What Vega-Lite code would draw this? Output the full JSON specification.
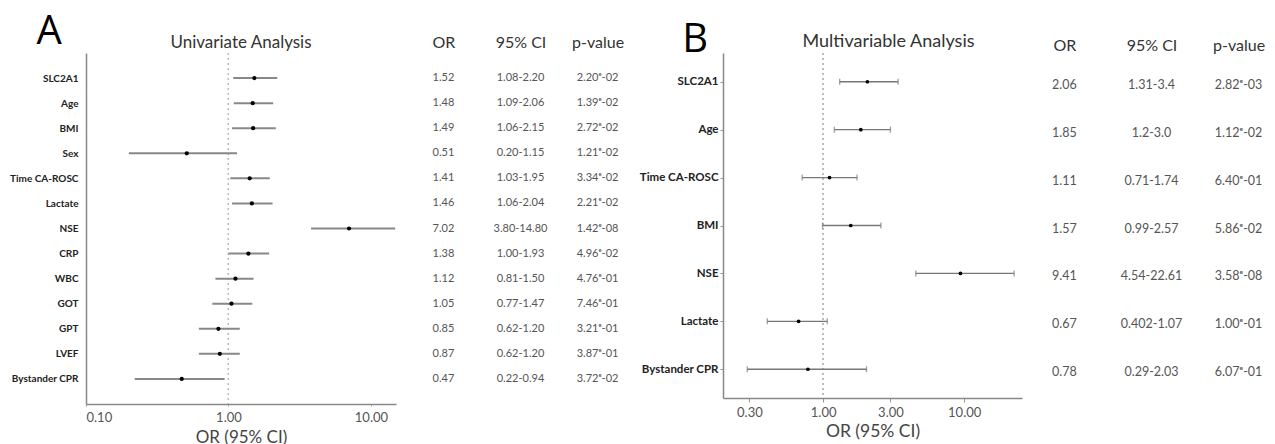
{
  "$schema": "https://vega.github.io/schema/vega-lite/v6.json",
  "padding": {"left": 9, "top": 11, "right": 0, "bottom": 0},
  "background": "white",
  "config": {
    "view": {"stroke": null},
    "font": "Lato",
    "title": {"font": "Lato", "fontWeight": "normal", "color": "#333"}
  },
  "datasets": {
    "uni": [
      {"var": "SLC2A1", "or": 1.52, "lo": 1.08, "hi": 2.20, "OR": "1.52", "95% CI": "1.08-2.20", "p-value": "2.20ᵉ-02"},
      {"var": "Age", "or": 1.48, "lo": 1.09, "hi": 2.06, "OR": "1.48", "95% CI": "1.09-2.06", "p-value": "1.39ᵉ-02"},
      {"var": "BMI", "or": 1.49, "lo": 1.06, "hi": 2.15, "OR": "1.49", "95% CI": "1.06-2.15", "p-value": "2.72ᵉ-02"},
      {"var": "Sex", "or": 0.51, "lo": 0.20, "hi": 1.15, "OR": "0.51", "95% CI": "0.20-1.15", "p-value": "1.21ᵉ-02"},
      {"var": "Time CA-ROSC", "or": 1.41, "lo": 1.03, "hi": 1.95, "OR": "1.41", "95% CI": "1.03-1.95", "p-value": "3.34ᵉ-02"},
      {"var": "Lactate", "or": 1.46, "lo": 1.06, "hi": 2.04, "OR": "1.46", "95% CI": "1.06-2.04", "p-value": "2.21ᵉ-02"},
      {"var": "NSE", "or": 7.02, "lo": 3.80, "hi": 14.80, "OR": "7.02", "95% CI": "3.80-14.80", "p-value": "1.42ᵉ-08"},
      {"var": "CRP", "or": 1.38, "lo": 1.00, "hi": 1.93, "OR": "1.38", "95% CI": "1.00-1.93", "p-value": "4.96ᵉ-02"},
      {"var": "WBC", "or": 1.12, "lo": 0.81, "hi": 1.50, "OR": "1.12", "95% CI": "0.81-1.50", "p-value": "4.76ᵉ-01"},
      {"var": "GOT", "or": 1.05, "lo": 0.77, "hi": 1.47, "OR": "1.05", "95% CI": "0.77-1.47", "p-value": "7.46ᵉ-01"},
      {"var": "GPT", "or": 0.85, "lo": 0.62, "hi": 1.20, "OR": "0.85", "95% CI": "0.62-1.20", "p-value": "3.21ᵉ-01"},
      {"var": "LVEF", "or": 0.87, "lo": 0.62, "hi": 1.20, "OR": "0.87", "95% CI": "0.62-1.20", "p-value": "3.87ᵉ-01"},
      {"var": "Bystander CPR", "or": 0.47, "lo": 0.22, "hi": 0.94, "OR": "0.47", "95% CI": "0.22-0.94", "p-value": "3.72ᵉ-02"}
    ],
    "multi": [
      {"var": "SLC2A1", "or": 2.06, "lo": 1.31, "hi": 3.4, "OR": "2.06", "95% CI": "1.31-3.4", "p-value": "2.82ᵉ-03"},
      {"var": "Age", "or": 1.85, "lo": 1.2, "hi": 3.0, "OR": "1.85", "95% CI": "1.2-3.0", "p-value": "1.12ᵉ-02"},
      {"var": "Time CA-ROSC", "or": 1.11, "lo": 0.71, "hi": 1.74, "OR": "1.11", "95% CI": "0.71-1.74", "p-value": "6.40ᵉ-01"},
      {"var": "BMI", "or": 1.57, "lo": 0.99, "hi": 2.57, "OR": "1.57", "95% CI": "0.99-2.57", "p-value": "5.86ᵉ-02"},
      {"var": "NSE", "or": 9.41, "lo": 4.54, "hi": 22.61, "OR": "9.41", "95% CI": "4.54-22.61", "p-value": "3.58ᵉ-08"},
      {"var": "Lactate", "or": 0.67, "lo": 0.402, "hi": 1.07, "OR": "0.67", "95% CI": "0.402-1.07", "p-value": "1.00ᵉ-01"},
      {"var": "Bystander CPR", "or": 0.78, "lo": 0.29, "hi": 2.03, "OR": "0.78", "95% CI": "0.29-2.03", "p-value": "6.07ᵉ-01"}
    ]
  },
  "spacing": 15,
  "hconcat": [
    {
      "title": {"text": "A", "anchor": "start", "font": "Open Sans", "fontSize": 40, "color": "#000", "dx": 27, "dy": 22},
      "spacing": 31,
      "hconcat": [
        {
          "width": 310,
          "height": 351,
          "data": {"name": "uni"},
          "title": {"text": "Univariate Analysis", "fontSize": 17, "offset": 1},
          "encoding": {
            "y": {"field": "var", "type": "nominal", "sort": null,
              "scale": {"type": "point", "padding": 1.29},
              "axis": {"title": null, "ticks": false, "labelPadding": 8, "labelFont": "Lato", "labelFontWeight": "bold", "labelFontSize": 10, "labelColor": "#222", "domainColor": "#888", "domainWidth": 1.5, "grid": false}}
          },
          "layer": [
            {
              "mark": {"type": "rule", "strokeDash": [2, 3], "color": "#bbb", "strokeWidth": 1},
              "encoding": {"x": {"datum": 1, "type": "quantitative"}, "y": null}
            },
            {
              "mark": {"type": "rule", "color": "#888", "strokeWidth": 2},
              "encoding": {
                "x": {"field": "lo", "type": "quantitative",
                  "scale": {"type": "log", "domain": [0.1, 15], "nice": false},
                  "axis": {"values": [0.1, 1, 10], "format": ".2f", "title": "OR (95% CI)", "grid": false, "ticks": true, "tickSize": 2, "tickColor": "#aaa", "labelPadding": 5, "labelFontSize": 13, "labelColor": "#555", "titleFontSize": 17, "titleFontWeight": "normal", "titleColor": "#444", "titlePadding": 5, "domainColor": "#888", "domainWidth": 1.5}},
                "x2": {"field": "hi"}
              }
            },
            {
              "mark": {"type": "point", "filled": true, "color": "#000", "size": 18, "shape": "circle", "opacity": 1},
              "encoding": {"x": {"field": "or", "type": "quantitative"}}
            }
          ]
        },
        {
          "width": 185,
          "height": 351,
          "data": {"name": "uni"},
          "transform": [{"fold": ["OR", "95% CI", "p-value"], "as": ["col", "val"]}],
          "mark": {"type": "text", "fontSize": 11, "color": "#555"},
          "encoding": {
            "x": {"field": "col", "type": "nominal", "sort": ["OR", "95% CI", "p-value"],
              "scale": {"type": "point", "padding": 0.2},
              "axis": {"orient": "top", "title": null, "domain": false, "ticks": false, "labelFontSize": 16, "labelColor": "#333", "labelPadding": 3, "labelAngle": 0}},
            "y": {"field": "var", "type": "nominal", "sort": null, "scale": {"type": "point", "padding": 1.29}, "axis": null},
            "text": {"field": "val", "type": "nominal"}
          }
        }
      ]
    },
    {
      "title": {"text": "B", "anchor": "start", "font": "Open Sans", "fontSize": 40, "color": "#000", "dx": 43, "dy": 31},
      "spacing": 25,
      "hconcat": [
        {
          "width": 299,
          "height": 345,
          "data": {"name": "multi"},
          "title": {"text": "Multivariable Analysis", "fontSize": 18, "offset": 2, "dx": 16},
          "encoding": {
            "y": {"field": "var", "type": "nominal", "sort": null,
              "scale": {"type": "point", "padding": 0.6},
              "axis": {"title": null, "ticks": true, "tickSize": 3, "tickColor": "#999", "labelPadding": 2, "labelFont": "Lato", "labelFontWeight": "bold", "labelFontSize": 11.5, "labelColor": "#222", "domainColor": "#888", "domainWidth": 1.5, "grid": false}}
          },
          "layer": [
            {
              "mark": {"type": "rule", "strokeDash": [2, 3], "color": "#bbb", "strokeWidth": 1},
              "encoding": {"x": {"datum": 1, "type": "quantitative"}, "y": null}
            },
            {
              "mark": {"type": "rule", "color": "#777", "strokeWidth": 1.3},
              "encoding": {
                "x": {"field": "lo", "type": "quantitative",
                  "scale": {"type": "log", "domain": [0.195, 25.7], "nice": false},
                  "axis": {"values": [0.3, 1, 3, 10], "format": ".2f", "title": "OR (95% CI)", "grid": false, "ticks": true, "tickSize": 4, "tickColor": "#999", "labelPadding": 4, "labelFontSize": 13, "labelColor": "#555", "titleFontSize": 17.5, "titleFontWeight": "normal", "titleColor": "#444", "titlePadding": 3, "domainColor": "#888", "domainWidth": 1.5}},
                "x2": {"field": "hi"}
              }
            },
            {
              "mark": {"type": "tick", "color": "#777", "thickness": 1.3, "size": 6, "orient": "vertical"},
              "encoding": {"x": {"field": "lo", "type": "quantitative"}}
            },
            {
              "mark": {"type": "tick", "color": "#777", "thickness": 1.3, "size": 6, "orient": "vertical"},
              "encoding": {"x": {"field": "hi", "type": "quantitative"}}
            },
            {
              "mark": {"type": "point", "filled": true, "color": "#000", "size": 14, "shape": "circle", "opacity": 1},
              "encoding": {"x": {"field": "or", "type": "quantitative"}}
            }
          ]
        },
        {
          "width": 209,
          "height": 345,
          "data": {"name": "multi"},
          "transform": [{"fold": ["OR", "95% CI", "p-value"], "as": ["col", "val"]}],
          "mark": {"type": "text", "fontSize": 12.5, "color": "#555", "dy": 3},
          "encoding": {
            "x": {"field": "col", "type": "nominal", "sort": ["OR", "95% CI", "p-value"],
              "scale": {"type": "point", "padding": 0.2},
              "axis": {"orient": "top", "title": null, "domain": false, "ticks": false, "labelFontSize": 16, "labelColor": "#333", "labelPadding": 0, "labelAngle": 0}},
            "y": {"field": "var", "type": "nominal", "sort": null, "scale": {"type": "point", "padding": 0.6}, "axis": null},
            "text": {"field": "val", "type": "nominal"}
          }
        }
      ]
    }
  ]
}
